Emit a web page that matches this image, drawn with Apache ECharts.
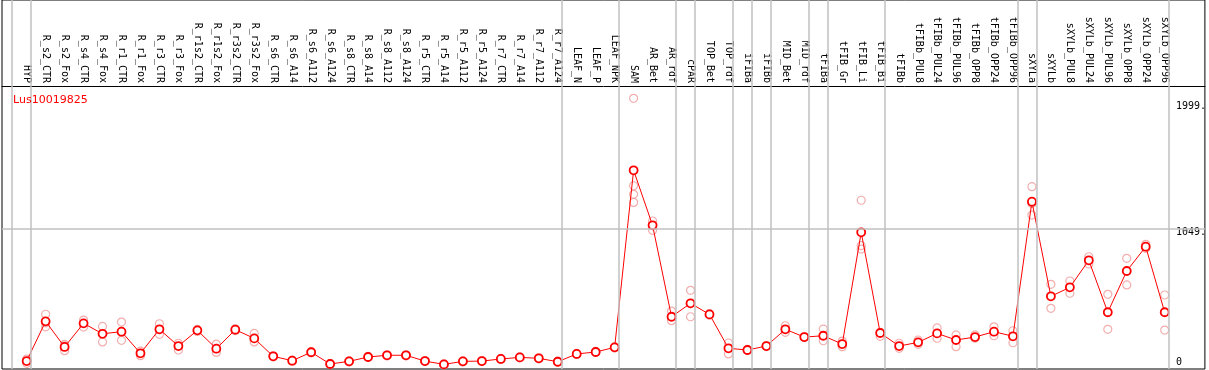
<!DOCTYPE html>
<html>
<head>
<meta charset="utf-8">
<script src="https://cdn.jsdelivr.net/npm/echarts@6/dist/echarts.min.js"></script>
<style>
  html, body { margin: 0; padding: 0; background: #fff; }
  #chart { width: 1209px; height: 370px; }
</style>
</head>
<body>
<div id="chart"></div>
<script>
// categories (samples)
const categories = [
  'HYP', 'R_s2_CTR', 'R_s2_Fox', 'R_s4_CTR', 'R_s4_Fox', 'R_r1_CTR', 'R_r1_Fox',
  'R_r3_CTR', 'R_r3_Fox', 'R_r1s2_CTR', 'R_r1s2_Fox', 'R_r3s2_CTR', 'R_r3s2_Fox',
  'R_s6_CTR', 'R_s6_A14', 'R_s6_A112', 'R_s6_A124', 'R_s8_CTR', 'R_s8_A14',
  'R_s8_A112', 'R_s8_A124', 'R_r5_CTR', 'R_r5_A14', 'R_r5_A112', 'R_r5_A124',
  'R_r7_CTR', 'R_r7_A14', 'R_r7_A112', 'R_r7_A124', 'LEAF_N', 'LEAF_P', 'LEAF_NPK',
  'SAM', 'AR_Bet', 'AR_rdf', 'cPAR', 'TOP_Bet', 'TOP_rdf', 'iFIBa', 'iFIBb',
  'MID_Bet', 'MID_rdf', 'tFIBa', 'tFIB_Gr', 'tFIB_Li', 'tFIB_Bi', 'tFIBb',
  'tFIBb_PUL8', 'tFIBb_PUL24', 'tFIBb_PUL96', 'tFIBb_OPP8', 'tFIBb_OPP24', 'tFIBb_OPP96',
  'sXYLa', 'sXYLb', 'sXYLb_PUL8', 'sXYLb_PUL24', 'sXYLb_PUL96', 'sXYLb_OPP8',
  'sXYLb_OPP24', 'sXYLb_OPP96'
];

// mean expression
const meanValues = [
  45, 346, 152, 331, 252, 268, 104, 286, 159, 278, 139, 283, 217,
  81, 48, 112, 23, 43, 76, 89, 89, 45, 20, 43, 45, 61, 73, 66, 40,
  99, 114, 149,
  1491, 1074, 381, 483, 399, 142, 129, 159, 286, 227, 237, 174, 1021, 258, 159,
  187, 255, 205, 227, 268, 233,
  1253, 536, 604, 809, 415, 728, 912, 415
];

// replicates (null = none)
const rep1 = [
  60, 400, 172, 356, 308, 341, 121, 328, 180, 285, 174, 290, 255,
  85, 52, 116, 27, 47, 80, 93, 93, 49, 24, 47, 49, 65, 77, 70, 44,
  103, 118, 153,
  2037, 1107, 424, 581, 405, 182, 133, 163, 313, 231, 288, 197, 1264, 262, 180,
  205, 296, 243, 243, 305, 275,
  1367, 627, 652, 836, 551, 824, 930, 546
];
const rep2 = [
  28, 305, 124, 303, 190, 202, 86, 248, 129, 270, 111, 276, 190,
  77, 44, 108, 19, 39, 72, 85, 85, 41, 16, 39, 41, 57, 69, 62, 36,
  95, 110, 145,
  1374, 1036, 351, 381, 393, 99, 125, 155, 263, 223, 199, 154, 920, 233, 142,
  172, 218, 154, 218, 237, 184,
  1152, 445, 559, 781, 286, 622, 900, 280
];
const rep3 = [
  null, 335, 160, null, null, null, null, null, null, null, null, null, null,
  null, null, null, null, null, null, null, null, null, null, null, null, null, null, null, null,
  null, null, null,
  1309, null, null, null, null, null, null, null, null, null, null, null, 894, null, null,
  null, null, null, null, null, null,
  1240, null, null, null, null, null, null, null
];
const rep4 = [
  null, null, null, null, null, null, null, null, null, null, null, null, null,
  null, null, null, null, null, null, null, null, null, null, null, null, null, null, null, null,
  null, null, null,
  1248, null, null, null, null, null, null, null, null, null, null, null, null, null, null,
  null, null, null, null, null, null,
  null, null, null, null, null, null, null, null
];

// group separators: a line just after these sample indices
const groupEnds = [-1, 0, 28, 31, 34, 35, 37, 38, 39, 41, 42, 45, 52, 53, 60];

// y tick labels
const yTicks = [0, 1049, 1999];
const yTickLabels = ['0', '1049.', '1999.'];

const geneName = 'Lus10019825';

const chart = echarts.init(document.getElementById('chart'));

const toPairs = arr => arr.map((v, i) => [i, v]).filter(p => p[1] != null);

const repSeries = [rep1, rep2, rep3, rep4].map(r => ({
  type: 'scatter',
  data: toPairs(r),
  symbol: 'circle',
  symbolSize: 8,
  itemStyle: { color: 'rgba(0,0,0,0)', borderColor: '#ef9a9a', borderWidth: 1.2 },
  silent: true,
  z: 2
}));

const option = {
  animation: false,
  title: {
    text: geneName,
    left: 8,
    top: 90,
    textStyle: { color: '#ff0000', fontSize: 11, fontWeight: 'normal', fontFamily: 'DejaVu Sans' }
  },
  grid: {
    left: 2, right: 2, top: 0, bottom: 1,
    show: true, borderColor: '#000', borderWidth: 1
  },
  xAxis: {
    type: 'value',
    min: -1.3,
    max: 62.12,
    position: 'top',
    offset: -86,
    splitLine: { show: false },
    axisTick: { show: false },
    axisLine: { show: true, onZero: false, lineStyle: { color: '#000', width: 1 } },
    axisLabel: {
      customValues: categories.map((c, i) => i),
      formatter: v => categories[Math.round(v)] || '',
      rotate: 90,
      margin: 3,
      color: '#000',
      fontSize: 10,
      fontFamily: 'DejaVu Sans Mono'
    }
  },
  yAxis: {
    type: 'value',
    position: 'right',
    min: -15,
    max: 2782,
    splitLine: { show: false },
    axisTick: { show: false },
    axisLine: { show: false },
    axisLabel: {
      inside: true,
      customValues: yTicks,
      margin: 29,
      align: 'left',
      verticalAlign: 'middle',
      formatter: v => {
        const lbl = yTickLabels[yTicks.indexOf(v)];
        return v === 0 ? '{b|' + lbl + '}' : '{a|' + lbl + '}';
      },
      rich: {
        a: { color: '#000', fontSize: 10, fontFamily: 'DejaVu Sans Mono', padding: [7, 0, 0, 0] },
        b: { color: '#000', fontSize: 10, fontFamily: 'DejaVu Sans Mono', padding: [0, 0, 10, 0] }
      }
    }
  },
  series: [
    {
      type: 'line',
      data: [],
      silent: true,
      markLine: {
        symbol: 'none',
        silent: true,
        label: { show: false },
        lineStyle: { color: '#c0c0c0', width: 1.5, type: 'solid' },
        data: groupEnds.map(i => ({ xAxis: i + 0.23 })).concat([{ yAxis: 1049 }])
      },
      z: 1
    },
    ...repSeries,
    {
      type: 'line',
      data: toPairs(meanValues),
      symbol: 'circle',
      symbolSize: 8,
      showAllSymbol: true,
      lineStyle: { color: '#ff0000', width: 1 },
      itemStyle: { color: '#fff', borderColor: '#ff0000', borderWidth: 1.8 },
      silent: true,
      z: 3
    }
  ]
};

chart.setOption(option);
</script>
</body>
</html>
